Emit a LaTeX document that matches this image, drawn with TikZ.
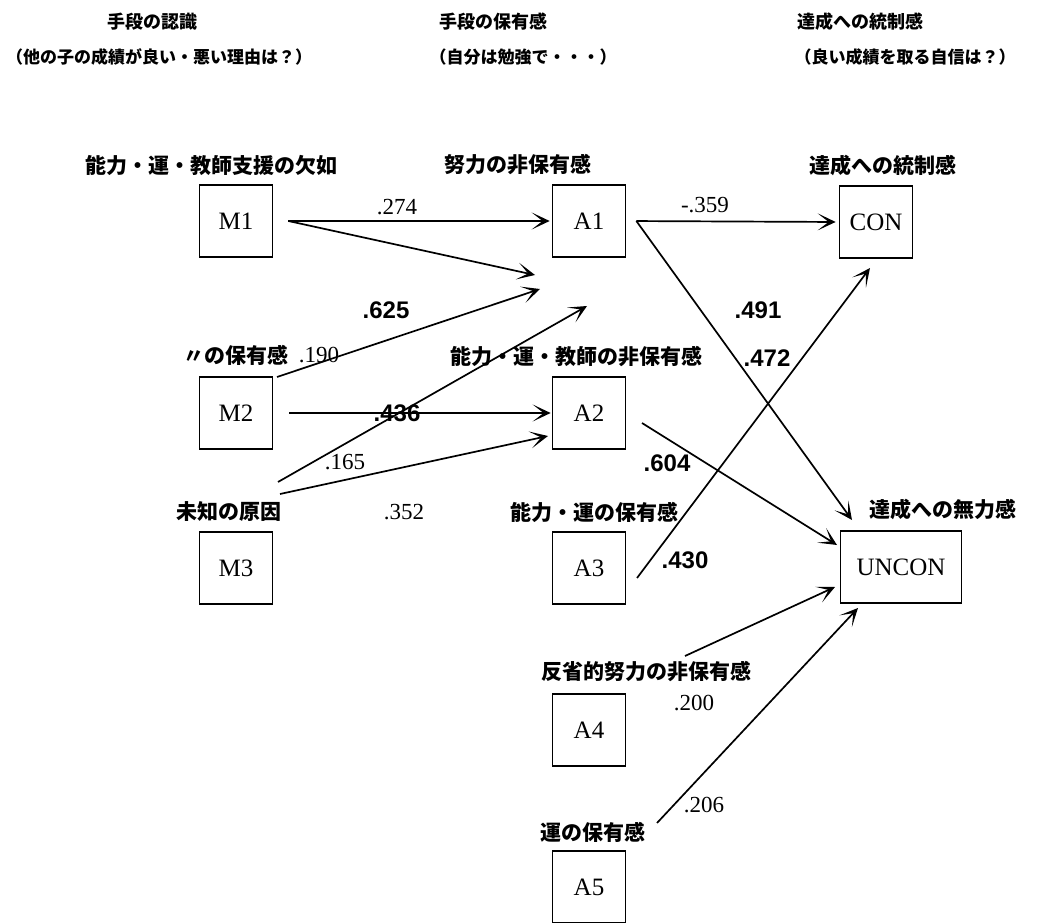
\documentclass[tikz,border=0pt]{standalone}
\usepackage{fontspec}
\setmainfont{Liberation Serif}
\newfontfamily\ssf{Liberation Sans}
\newfontfamily\jp{Noto Sans CJK JP}
\usetikzlibrary{arrows.meta}
\begin{document}
\begin{tikzpicture}[x=1pt,y=-1pt,
  box/.style={draw,line width=1.7pt,minimum width=73pt,minimum height=72pt,inner sep=0pt,font=\fontsize{25}{25}\selectfont},
  wbox/.style={box,minimum width=121pt},
  lab/.style={font=\jp\bfseries\fontsize{21}{21}\selectfont,inner sep=0pt},
  hd/.style={font=\jp\bfseries\fontsize{18}{18}\selectfont,inner sep=0pt},
  sub/.style={font=\jp\bfseries\fontsize{17}{17}\selectfont,inner sep=0pt},
  num/.style={font=\fontsize{23}{23}\selectfont,inner sep=0pt},
  bnum/.style={font=\ssf\bfseries\fontsize{24}{24}\selectfont,inner sep=0pt},
  arr/.style={line width=1.7pt,-{Stealth[length=18pt,width=17pt,inset=11pt]}}]
\useasboundingbox (0,0) rectangle (1037,923);
% headers
\node[hd] (h1) at (152,22) {手段の認識};
\node[hd] (h2) at (493,22) {手段の保有感};
\node[hd] (h3) at (860,22) {達成への統制感};
\node[sub,anchor=west] (s1) at (6,57) {（他の子の成績が良い・悪い理由は？）};
\node[sub] (s2) at (523,57) {（自分は勉強で・・・）};
\node[sub] (s3) at (905,57) {（良い成績を取る自信は？）};
% boxes
\node[box] (M1) at (236,221) {M1};
\node[box] (M2) at (236,413) {M2};
\node[box] (M3) at (236,568) {M3};
\node[box] (A1) at (589,221) {A1};
\node[box] (A2) at (589,413) {A2};
\node[box] (A3) at (589,568) {A3};
\node[box] (A4) at (589,730) {A4};
\node[box] (A5) at (589,887) {A5};
\node[box] (CON) at (876,222) {CON};
\node[wbox] (UNCON) at (901,567) {UNCON};
% labels
\node[lab,anchor=east] (lm1) at (338,165) {能力・運・教師支援の欠如};
\node[lab] (la1) at (518,165) {努力の非保有感};
\node[lab] (lcon) at (883,165) {達成への統制感};
\node[lab] (lm2) at (236,355) {〃の保有感};
\node[lab] (la2) at (576,357) {能力・運・教師の非保有感};
\node[lab] (lm3) at (229,512) {未知の原因};
\node[lab] (la3) at (594,512) {能力・運の保有感};
\node[lab] (lun) at (943,509) {達成への無力感};
\node[lab] (la4) at (646,672) {反省的努力の非保有感};
\node[lab] (la5) at (593,832) {運の保有感};
% free ends
\coordinate (p2) at (535,275);
\coordinate (p3s) at (277,377);
\coordinate (p3) at (540,289);
\coordinate (p4s) at (278,482);
\coordinate (p4) at (587,306);
\coordinate (p6s) at (280,494);
\coordinate (p6) at (548,436);
\coordinate (p8) at (852,520);
\coordinate (p9s) at (637,578);
\coordinate (p9) at (870,268);
\coordinate (p10s) at (642,423);
\coordinate (p10) at (837,545);
\coordinate (p11s) at (685,656);
\coordinate (p11) at (835,587);
\coordinate (p12s) at (657,823);
\coordinate (p12) at (858,608);
% connectors
\draw[arr,shorten <=15pt,shorten >=2pt] (M1.east) -- (A1.west);
\draw[arr] ([xshift=15pt]M1.east) -- (p2);
\draw[arr] (p3s) -- (p3);
\draw[arr] (p4s) -- (p4);
\draw[arr,shorten <=16pt,shorten >=1pt] (M2.east) -- (A2.west);
\draw[arr] (p6s) -- (p6);
\draw[arr,shorten <=10pt,shorten >=3pt] (A1.east) -- (CON.west);
\draw[arr] ([xshift=10pt]A1.east) -- (p8);
\draw[arr] (p9s) -- (p9);
\draw[arr] (p10s) -- (p10);
\draw[arr] (p11s) -- (p11);
\draw[arr] (p12s) -- (p12);
% numbers
\node[num] (n274) at (397,207) {.274};
\node[bnum] (n625) at (386,310) {.625};
\node[num] (n190) at (319,355) {.190};
\node[bnum] (n436) at (397,413) {.436};
\node[num] (n165) at (345,462) {.165};
\node[num] (n352) at (404,512) {.352};
\node[num] (n359) at (705,205) {-.359};
\node[bnum] (n491) at (758,310) {.491};
\node[bnum] (n472) at (767,358) {.472};
\node[bnum] (n604) at (667,463) {.604};
\node[bnum] (n430) at (685,560) {.430};
\node[num] (n200) at (694,703) {.200};
\node[num] (n206) at (704,805) {.206};
\end{tikzpicture}
\end{document}
